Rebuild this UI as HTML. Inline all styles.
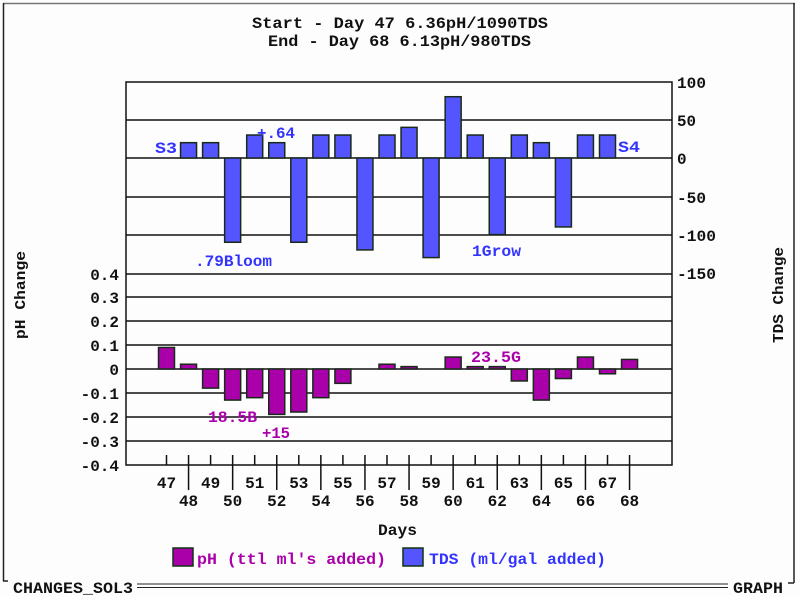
<!DOCTYPE html>
<html><head><meta charset="utf-8"><style>
html,body{margin:0;padding:0;background:#fff}
svg{display:block}
text{font-family:"Liberation Mono","DejaVu Sans Mono",monospace;font-weight:bold}
</style></head><body>
<svg width="800" height="596" viewBox="0 0 800 596" xmlns="http://www.w3.org/2000/svg">
<rect x="0" y="0" width="800" height="596" fill="#fdfdfd"/>
<line x1="3" y1="3.5" x2="795" y2="3.5" stroke="#777" stroke-width="1.5"/>
<line x1="3.5" y1="3" x2="3.5" y2="581" stroke="#222" stroke-width="1.5"/>
<line x1="3" y1="581" x2="8" y2="581" stroke="#222" stroke-width="1.5"/>
<line x1="794" y1="3" x2="794" y2="583" stroke="#222" stroke-width="1.5"/>
<line x1="788" y1="583" x2="794" y2="583" stroke="#222" stroke-width="1.5"/>
<line x1="137" y1="584" x2="728" y2="584" stroke="#222" stroke-width="1"/>
<line x1="137" y1="587.5" x2="728" y2="587.5" stroke="#222" stroke-width="1"/>
<text x="13" y="593" font-size="16" textLength="120" lengthAdjust="spacingAndGlyphs" fill="#111">CHANGES_SOL3</text>
<text x="733" y="593" font-size="16" textLength="50" lengthAdjust="spacingAndGlyphs" fill="#111">GRAPH</text>
<text x="252" y="28" font-size="16" textLength="296" lengthAdjust="spacingAndGlyphs" fill="#111">Start - Day 47 6.36pH/1090TDS</text>
<text x="268" y="46" font-size="16" textLength="263" lengthAdjust="spacingAndGlyphs" fill="#111">End - Day 68 6.13pH/980TDS</text>
<rect x="126" y="82" width="546" height="383" fill="none" stroke="#111" stroke-width="1.5"/>
<g stroke="#111" stroke-width="1.5">
<line x1="126" y1="120" x2="672" y2="120"/>
<line x1="126" y1="158" x2="672" y2="158"/>
<line x1="126" y1="197" x2="672" y2="197"/>
<line x1="126" y1="235" x2="672" y2="235"/>
<line x1="126" y1="274" x2="672" y2="274"/>
<line x1="126" y1="297" x2="672" y2="297"/>
<line x1="126" y1="321" x2="672" y2="321"/>
<line x1="126" y1="345" x2="672" y2="345"/>
<line x1="126" y1="369" x2="672" y2="369"/>
<line x1="126" y1="393" x2="672" y2="393"/>
<line x1="126" y1="417" x2="672" y2="417"/>
<line x1="126" y1="441" x2="672" y2="441"/>
</g>
<g font-size="16" fill="#111">
<text x="677" y="88" textLength="29" lengthAdjust="spacingAndGlyphs">100</text>
<text x="677" y="126" textLength="19" lengthAdjust="spacingAndGlyphs">50</text>
<text x="677" y="164">0</text>
<text x="677" y="203" textLength="29" lengthAdjust="spacingAndGlyphs">-50</text>
<text x="677" y="241" textLength="39" lengthAdjust="spacingAndGlyphs">-100</text>
<text x="677" y="279" textLength="39" lengthAdjust="spacingAndGlyphs">-150</text>
</g>
<g font-size="16" fill="#111" text-anchor="end">
<text x="119" y="280">0.4</text>
<text x="119" y="303">0.3</text>
<text x="119" y="327">0.2</text>
<text x="119" y="351">0.1</text>
<text x="119" y="375">0</text>
<text x="119" y="399">-0.1</text>
<text x="119" y="423">-0.2</text>
<text x="119" y="447">-0.3</text>
<text x="119" y="471">-0.4</text>
</g>
<text transform="translate(25,295) rotate(-90)" font-size="15" text-anchor="middle" textLength="88" lengthAdjust="spacingAndGlyphs" fill="#111">pH Change</text>
<text transform="translate(783,295) rotate(-90)" font-size="15" text-anchor="middle" textLength="96" lengthAdjust="spacingAndGlyphs" fill="#111">TDS Change</text>
<g id="bars"></g>
<g id="ticks"></g>
<g font-size="16" fill="#3333ff">
<text x="155" y="153" textLength="22" lengthAdjust="spacingAndGlyphs">S3</text>
<text x="257" y="138" textLength="38" lengthAdjust="spacingAndGlyphs">+.64</text>
<text x="195" y="266" textLength="77" lengthAdjust="spacingAndGlyphs">.79Bloom</text>
<text x="472" y="256" textLength="49" lengthAdjust="spacingAndGlyphs">1Grow</text>
<text x="618" y="152" textLength="22" lengthAdjust="spacingAndGlyphs">S4</text>
</g>
<g font-size="16" fill="#aa00aa">
<text x="208" y="422" textLength="49" lengthAdjust="spacingAndGlyphs">18.5B</text>
<text x="262" y="438" textLength="28" lengthAdjust="spacingAndGlyphs">+15</text>
<text x="471" y="362" textLength="50" lengthAdjust="spacingAndGlyphs">23.5G</text>
</g>
<text x="378" y="535" font-size="16" fill="#111" textLength="39" lengthAdjust="spacingAndGlyphs">Days</text>
<rect x="173" y="548" width="20" height="18" fill="#aa00aa" stroke="#113311" stroke-width="1.5"/>
<text x="197" y="564" font-size="16" fill="#aa00aa" textLength="189" lengthAdjust="spacingAndGlyphs">pH (ttl ml's added)</text>
<rect x="403" y="548" width="20" height="18" fill="#5555ff" stroke="#113311" stroke-width="1.5"/>
<text x="429" y="564" font-size="16" fill="#3333ff" textLength="177" lengthAdjust="spacingAndGlyphs">TDS (ml/gal added)</text>
<script>
(function(){
var ns="http://www.w3.org/2000/svg";
function X(d){return 166.5+22.05*(d-47);}
var bars=document.getElementById("bars"),ticks=document.getElementById("ticks");
function rect(x,y,w,h,f){var r=document.createElementNS(ns,"rect");r.setAttribute("x",x);r.setAttribute("y",y);r.setAttribute("width",w);r.setAttribute("height",h);r.setAttribute("fill",f);r.setAttribute("stroke","#1a2a1a");r.setAttribute("stroke-width","1.5");bars.appendChild(r);}
var tds={48:20,49:20,50:-110,51:30,52:20,53:-110,54:30,55:30,56:-120,57:30,58:40,59:-130,60:80,61:30,62:-100,63:30,64:20,65:-90,66:30,67:30};
for(var d in tds){var v=tds[d],y0=158,y1=158-v*38.3/50;rect(X(+d)-8,Math.min(y0,y1),16,Math.abs(y1-y0),"#5555ff");}
var ph={47:.09,48:.02,49:-.08,50:-.13,51:-.12,52:-.19,53:-.18,54:-.12,55:-.06,57:.02,58:.01,60:.05,61:.01,62:.01,63:-.05,64:-.13,65:-.04,66:.05,67:-.02,68:.04};
for(var d in ph){var v=ph[d],y0=369,y1=369-v*239;rect(X(+d)-8,Math.min(y0,y1),16,Math.max(2,Math.abs(y1-y0)),"#aa00aa");}
for(var d=47;d<=68;d++){var x=X(d),odd=d%2==1;
var l=document.createElementNS(ns,"line");l.setAttribute("x1",x);l.setAttribute("x2",x);l.setAttribute("y1",455);l.setAttribute("y2",odd?465:490);l.setAttribute("stroke","#111");l.setAttribute("stroke-width","1.5");ticks.appendChild(l);
var t=document.createElementNS(ns,"text");t.setAttribute("x",x);t.setAttribute("y",odd?488:506);t.setAttribute("font-size","16");t.setAttribute("text-anchor","middle");t.setAttribute("fill","#111");t.textContent=d;ticks.appendChild(t);}
})();
</script>
</svg>
</body></html>
